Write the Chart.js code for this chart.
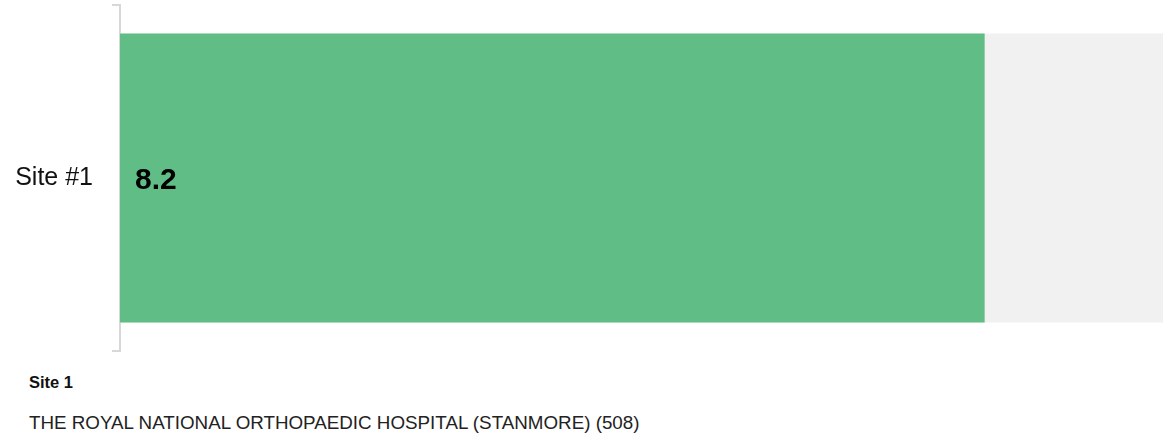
<!DOCTYPE html>
<html>
<head>
<meta charset="utf-8">
<script src="https://cdn.jsdelivr.net/npm/chart.js@4"></script>
<style>
  body { margin: 0; background: #fff; font-family: "Liberation Sans", Arial, sans-serif; }
  #wrap { position: relative; width: 1163px; height: 356px; }
  .site-title { position: absolute; left: 29px; top: 374px; font-size: 16.5px; line-height: 1; font-weight: bold; color: #111; white-space: nowrap; }
  .site-name { position: absolute; left: 29px; top: 414px; font-size: 18.8px; line-height: 1; color: #222; white-space: nowrap; }
</style>
</head>
<body>
<div id="wrap"><canvas id="siteChart"></canvas></div>
<div class="site-title">Site 1</div>
<div class="site-name">THE ROYAL NATIONAL ORTHOPAEDIC HOSPITAL (STANMORE) (508)</div>
<script>
const categories = ['Site #1'];
// bar length reads ~8.3 of 10 while the label shows 8.2, so the label is truncated
const scores = [8.29];
const maxScore = 10;

// draws the score (cut to one decimal) in bold near the start of each bar
const valueLabels = {
    id: 'valueLabels',
    afterDatasetsDraw(chart) {
        const ctx = chart.ctx;
        const meta = chart.getDatasetMeta(1);
        ctx.save();
        ctx.font = 'bold 30px "Liberation Sans", Arial, sans-serif';
        ctx.fillStyle = '#000';
        ctx.textBaseline = 'alphabetic';
        meta.data.forEach((bar, i) => {
            const txt = (Math.floor(scores[i] * 10) / 10).toFixed(1);
            ctx.fillText(txt, bar.base + 15, bar.y + 11);
        });
        ctx.restore();
    }
};

new Chart(document.getElementById('siteChart').getContext('2d'), {
    type: 'bar',
    data: {
        labels: categories,
        datasets: [
            {
                label: 'max',
                data: categories.map(() => maxScore),
                backgroundColor: '#f1f1f1',
                grouped: false,
                order: 2,
                barPercentage: 0.835,
                categoryPercentage: 1
            },
            {
                label: 'score',
                data: scores,
                backgroundColor: '#60bd86',
                grouped: false,
                order: 1,
                barPercentage: 0.835,
                categoryPercentage: 1
            }
        ]
    },
    options: {
        indexAxis: 'y',
        responsive: true,
        maintainAspectRatio: false,
        animation: false,
        layout: { padding: { top: 5, right: 0, left: 0, bottom: 5 } },
        plugins: { legend: { display: false }, tooltip: { enabled: false } },
        scales: {
            x: { display: false, min: 0, max: maxScore },
            y: {
                afterFit(scale) {
                    scale.width = 120;
                    scale.paddingTop = 0;
                    scale.paddingBottom = 0;
                },
                border: { color: '#d8d8d8', width: 2 },
                grid: { drawOnChartArea: false, tickLength: 8, color: '#d8d8d8', lineWidth: 2 },
                ticks: {
                    color: '#111',
                    padding: 19,
                    font: { family: '"Liberation Sans", Arial, sans-serif', size: 25 }
                }
            }
        }
    },
    plugins: [valueLabels]
});
</script>
</body>
</html>
